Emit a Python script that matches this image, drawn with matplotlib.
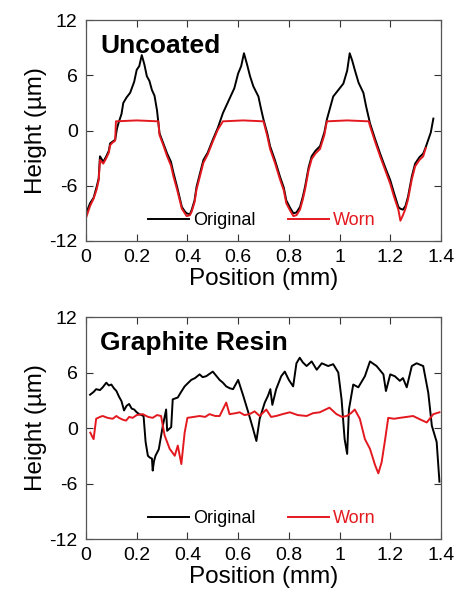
import matplotlib
matplotlib.use("Agg")
import matplotlib.pyplot as plt

plt.rcParams['font.family'] = ['Liberation Sans', 'DejaVu Sans']
plt.rcParams['axes.unicode_minus'] = False

# --- Uncoated surface profile (x in mm, height in um) ---
unc_orig_x = [0.0, 0.016, 0.03, 0.042, 0.05, 0.055, 0.068, 0.08, 0.09, 0.095, 0.105, 0.115, 0.122,
              0.128, 0.14, 0.147, 0.16, 0.174, 0.19, 0.2, 0.21, 0.22, 0.23, 0.24, 0.25, 0.26, 0.27,
              0.28, 0.29, 0.305, 0.32, 0.335, 0.345, 0.36, 0.378, 0.39, 0.397, 0.41, 0.417, 0.428,
              0.436, 0.45, 0.463, 0.48, 0.5, 0.52, 0.54, 0.555, 0.57, 0.585, 0.6, 0.612, 0.623,
              0.635, 0.647, 0.66, 0.68, 0.69, 0.70, 0.715, 0.726, 0.745, 0.765, 0.78, 0.79, 0.805,
              0.818, 0.83, 0.844, 0.855, 0.864, 0.878, 0.89, 0.905, 0.923, 0.94, 0.95, 0.962, 0.975,
              0.995, 1.015, 1.03, 1.04, 1.05, 1.06, 1.075, 1.094, 1.105, 1.12, 1.14, 1.16, 1.18,
              1.2, 1.215, 1.232, 1.24, 1.25, 1.26, 1.27, 1.285, 1.298, 1.315, 1.33, 1.34, 1.35,
              1.36, 1.37]
unc_orig_y = [-9.0, -7.9, -7.3, -6.1, -5.2, -2.8, -3.4, -2.8, -2.2, -1.4, -1.2, -1.0, 0.2,
              0.8, 1.8, 3.0, 3.6, 4.1, 5.3, 6.6, 7.0, 8.2, 7.2, 5.9, 5.4, 4.4, 3.8,
              2.2, -0.3, -1.4, -2.5, -3.4, -4.6, -6.2, -8.3, -8.8, -9.0, -9.1, -8.6, -7.6,
              -6.1, -4.6, -3.2, -2.4, -1.0, 0.3, 1.9, 2.8, 3.7, 4.6, 6.2, 7.0, 8.4,
              7.2, 5.9, 4.8, 3.7, 2.4, 1.2, -0.3, -1.7, -3.2, -5.0, -6.2, -7.6, -8.4,
              -9.0, -8.9, -8.3, -7.2, -6.1, -4.0, -2.8, -2.2, -1.7, -0.2, 1.2, 2.4, 3.7,
              4.4, 5.1, 6.5, 8.4, 7.6, 6.6, 5.2, 4.1, 2.6, 0.8, -0.9, -2.5, -4.0,
              -5.4, -6.8, -8.3, -8.5, -8.6, -8.2, -7.2, -5.0, -3.6, -2.9, -2.5, -1.8, -1.0,
              -0.2, 1.3]

unc_worn_x = [0.0, 0.016, 0.03, 0.042, 0.05, 0.055, 0.068, 0.08, 0.09, 0.095, 0.105, 0.115,
              0.118, 0.2, 0.285, 0.29, 0.305, 0.32, 0.335, 0.345, 0.36, 0.378, 0.39, 0.397, 0.41,
              0.417, 0.428, 0.436, 0.45, 0.463, 0.48, 0.5, 0.52, 0.54, 0.62, 0.70, 0.715,
              0.726, 0.745, 0.765, 0.78, 0.79, 0.805, 0.818, 0.83, 0.844, 0.855, 0.864, 0.878,
              0.89, 0.905, 0.923, 0.94, 0.95, 1.03, 1.115, 1.12, 1.14, 1.16, 1.18, 1.2, 1.215,
              1.232, 1.24, 1.25, 1.26, 1.27, 1.285, 1.298, 1.315, 1.33, 1.34]
unc_worn_y = [-9.5, -8.2, -7.4, -6.4, -5.4, -3.2, -3.6, -3.0, -2.4, -1.6, -1.3, -1.1,
              1.0, 1.1, 1.0, -0.5, -1.6, -2.8, -3.8, -5.0, -6.5, -8.5, -9.0, -9.3, -9.2,
              -8.8, -7.8, -6.4, -4.9, -3.5, -2.6, -1.2, 0.1, 1.0, 1.1, 1.0, -0.6,
              -2.0, -3.5, -5.3, -6.5, -7.9, -8.7, -9.3, -9.2, -8.6, -7.5, -6.4, -4.3,
              -3.1, -2.5, -2.0, -0.5, 1.0, 1.1, 1.0, 0.5, -1.2, -2.8, -4.3,
              -5.8, -7.2, -8.6, -9.8, -9.2, -8.5, -7.5, -5.3, -3.9, -3.2, -2.8, -1.9]

# --- Graphite resin coated surface profile ---
gr_orig_x = [0.016, 0.03, 0.04, 0.055, 0.066, 0.08, 0.09, 0.1, 0.11, 0.12, 0.13, 0.14, 0.15,
             0.16, 0.17, 0.18, 0.19, 0.2, 0.21, 0.227, 0.235, 0.244, 0.252, 0.26, 0.263, 0.268,
             0.274, 0.287, 0.303, 0.316, 0.32, 0.336, 0.342, 0.362, 0.375, 0.389, 0.4, 0.415,
             0.43, 0.448, 0.46, 0.474, 0.5, 0.515, 0.527, 0.54, 0.553, 0.567, 0.58, 0.6, 0.62,
             0.64, 0.659, 0.672, 0.685, 0.705, 0.718, 0.727, 0.735, 0.75, 0.77, 0.784, 0.8,
             0.817, 0.83, 0.843, 0.855, 0.87, 0.89, 0.91, 0.93, 0.955, 0.975, 0.995, 1.008,
             1.02, 1.03, 1.037, 1.054, 1.074, 1.1, 1.12, 1.146, 1.173, 1.183, 1.2, 1.218, 1.238,
             1.25, 1.265, 1.285, 1.304, 1.33, 1.35, 1.364, 1.383, 1.394]
gr_orig_y = [3.6, 3.9, 4.2, 4.1, 4.4, 4.9, 4.6, 4.7, 4.3, 4.0, 3.4, 2.9, 1.9,
             2.4, 2.6, 2.1, 2.0, 1.7, 1.5, 1.3, -1.5, -3.0, -3.2, -3.3, -4.6, -3.6,
             -3.0, -2.3, 0.25, 2.0, -0.3, 0.1, 3.1, 3.3, 3.9, 4.5, 4.8, 5.2,
             5.4, 5.8, 5.5, 5.6, 6.1, 5.6, 5.2, 4.9, 4.5, 4.3, 4.2, 5.2, 3.5,
             1.7, -0.1, -1.4, 1.0, 2.75, 3.5, 4.2, 2.5, 4.2, 5.6, 6.1, 5.2,
             4.5, 7.0, 7.6, 7.1, 6.7, 7.2, 6.3, 7.0, 6.7, 6.9, 6.0, 3.1,
             -1.2, -2.8, 2.0, 4.7, 4.4, 5.6, 7.2, 6.7, 5.8, 4.0, 5.8, 5.6, 5.1,
             5.4, 4.4, 6.7, 7.0, 6.7, 3.8, 0.25, -1.5, -5.8]

gr_worn_x = [0.017, 0.024, 0.03, 0.04, 0.055, 0.066, 0.085, 0.105, 0.12, 0.13, 0.145, 0.158,
             0.17, 0.184, 0.2, 0.224, 0.245, 0.263, 0.28, 0.296, 0.31, 0.33, 0.35, 0.362, 0.376,
             0.389, 0.40, 0.425, 0.448, 0.47, 0.487, 0.51, 0.527, 0.553, 0.566, 0.59, 0.606,
             0.625, 0.645, 0.665, 0.685, 0.711, 0.73, 0.75, 0.775, 0.804, 0.835, 0.87, 0.895,
             0.922, 0.96, 0.988, 1.01, 1.028, 1.045, 1.06, 1.08, 1.1, 1.12, 1.14, 1.153, 1.166,
             1.18, 1.192, 1.215, 1.238, 1.265, 1.29, 1.32, 1.344, 1.37, 1.394]
gr_worn_y = [-0.5, -0.9, -1.2, 1.0, 1.2, 1.3, 1.1, 1.0, 1.3, 1.1, 0.9, 0.8,
             1.2, 1.1, 1.4, 1.5, 1.2, 1.1, 1.4, 1.3, -0.8, -2.25, -3.0, -1.9, -3.9,
             -0.5, 1.1, 1.2, 1.3, 1.2, 1.5, 1.3, 1.3, 2.75, 1.5, 1.6, 1.7,
             1.4, 1.5, 1.8, 1.3, 2.0, 1.2, 1.3, 1.5, 1.7, 1.4, 1.3, 1.6,
             1.7, 2.2, 1.5, 1.2, 1.3, 1.6, 2.0, 1.0, -1.2, -2.25, -4.0, -4.9, -3.7,
             -1.2, 1.1, 1.0, 1.1, 1.2, 1.3, 0.9, 0.6, 1.5, 1.7]

panels = [
    ("Uncoated", unc_orig_x, unc_orig_y, unc_worn_x, unc_worn_y),
    ("Graphite Resin", gr_orig_x, gr_orig_y, gr_worn_x, gr_worn_y),
]

x_ticks = [0, 0.2, 0.4, 0.6, 0.8, 1.0, 1.2, 1.4]
x_tick_labels = ["0", "0.2", "0.4", "0.6", "0.8", "1", "1.2", "1.4"]
y_ticks = [-12, -6, 0, 6, 12]

red = "#e3191f"

fig = plt.figure(figsize=(4.58, 5.92), dpi=100)
axes = [fig.add_axes([0.1878, 0.593, 0.775, 0.373]),
        fig.add_axes([0.1878, 0.0895, 0.775, 0.375])]

for ax, (title, ox, oy, wx, wy) in zip(axes, panels):
    ax.plot(ox, oy, color="black", lw=1.4, label="Original")
    ax.plot(wx, wy, color=red, lw=1.4, label="Worn")
    ax.set_xlim(0, 1.4)
    ax.set_ylim(-12, 12)
    ax.set_xticks(x_ticks)
    ax.set_xticklabels(x_tick_labels)
    ax.set_yticks(y_ticks)
    ax.tick_params(direction="in", top=True, right=True, length=5, width=0.8,
                   labelsize=14, pad=6, colors="#333333", labelcolor="black")
    for s in ax.spines.values():
        s.set_color("#555555")
        s.set_linewidth(0.9)
    ax.set_xlabel("Position (mm)", fontsize=17.5, labelpad=1)
    ax.set_ylabel("Height (\u00b5m)", fontsize=17.5, labelpad=2)
    ax.text(0.04, 0.85, title, transform=ax.transAxes, fontsize=19,
            fontweight="bold", va="baseline", ha="left")
    leg = ax.legend(loc="lower center", bbox_to_anchor=(0.495, -0.02), ncol=2,
                    frameon=False, fontsize=13, handlelength=2.3, handletextpad=0.2,
                    columnspacing=1.8, labelcolor="linecolor")

fig.savefig("out.png", dpi=100)
